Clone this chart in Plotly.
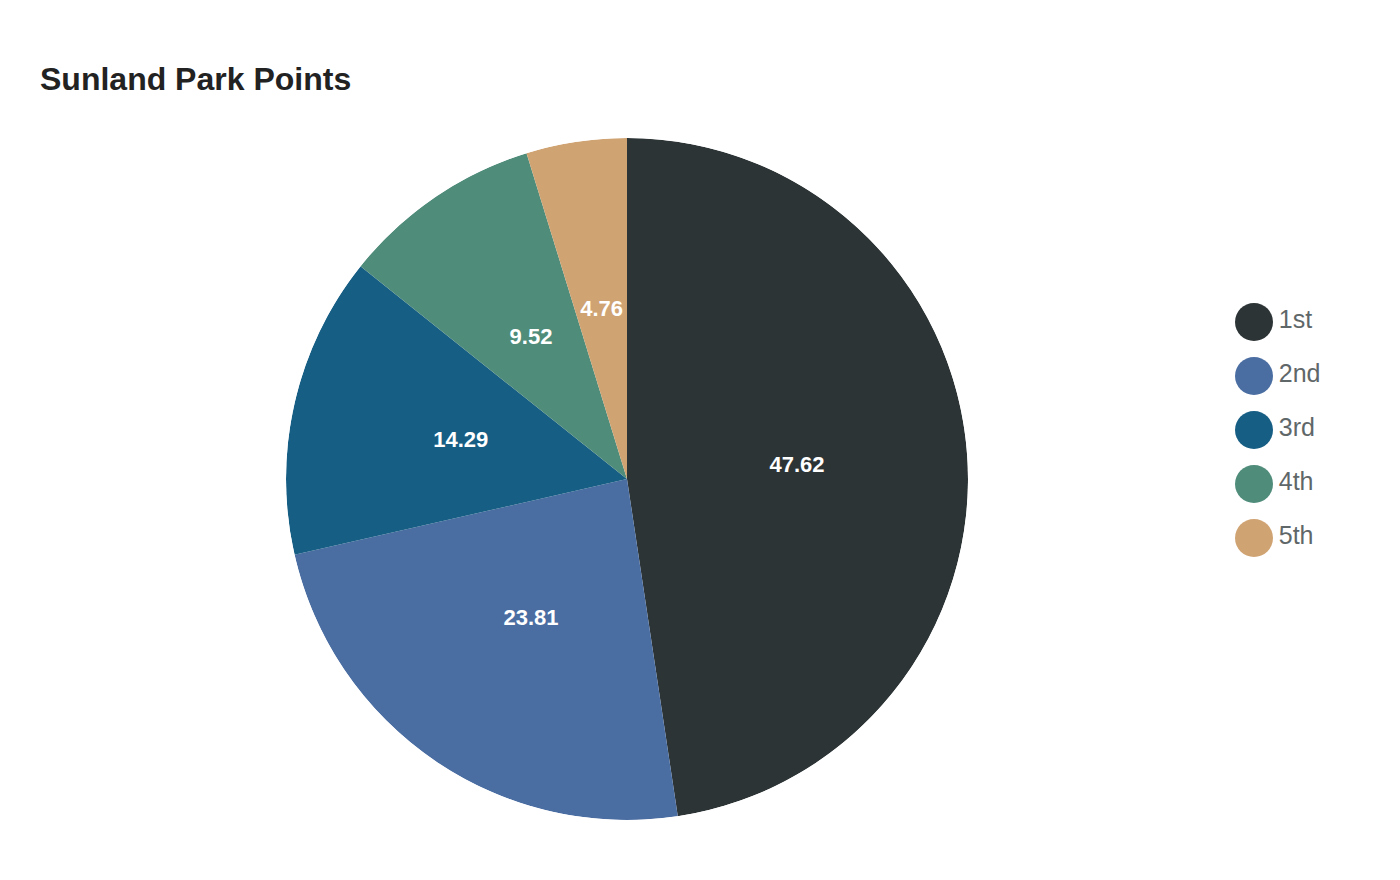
import plotly.graph_objects as go
import numpy as np

labels = ["1st", "2nd", "3rd", "4th", "5th"]
values = [47.62, 23.81, 14.29, 9.52, 4.76]
colors = ["#2d3436", "#4a6da2", "#175e84", "#4f8c7a", "#d0a373"]
title_text = "Sunland Park Points"

W, H = 1400, 880
OFF = 8  # page body margin
cx, cy, r = 627 - OFF, 479 - OFF, 341

dom = dict(x=[(cx - r) / W, (cx + r) / W], y=[1 - (cy + r) / H, 1 - (cy - r) / H])

# slice widths and mid-angles (degrees, clockwise from top) derived from the values
vals = np.array(values)
span = vals / vals.sum() * 360
mid_theta = np.cumsum(span) - span / 2

fig = go.Figure()
fig.add_trace(go.Barpolar(
    r=[1] * len(values), theta=mid_theta, width=span,
    marker=dict(color=colors, line=dict(width=0)),
    customdata=labels, hovertemplate="%{customdata}: %{text}<extra></extra>",
    text=[f"{v:.2f}" for v in values],
    showlegend=False,
))

# value labels at half radius inside each slice
fig.add_trace(go.Scatterpolar(
    r=[0.5] * len(values), theta=mid_theta, mode="text",
    text=[f"{v:.2f}" for v in values],
    textfont=dict(family="Liberation Sans", size=22, color="white", weight="bold"),
    showlegend=False, hoverinfo="skip",
))

# legend drawn as a scatter trace with large circular markers
fig.add_trace(go.Scatter(
    x=[0] * len(labels), y=labels, mode="markers+text",
    marker=dict(size=38, color=colors, symbol="circle"),
    text=labels, textposition="middle right",
    textfont=dict(family="Liberation Sans", size=25, color="#5f6769"),
    showlegend=False, hoverinfo="skip", cliponaxis=False,
))

lx = 1254 - OFF
ly_top, ly_bot = 322 - OFF - 27, 538 - OFF + 27

fig.update_layout(
    width=W, height=H,
    margin=dict(l=0, r=0, t=0, b=0),
    paper_bgcolor="white", plot_bgcolor="rgba(0,0,0,0)",
    font=dict(family="Liberation Sans"),
    title=dict(text=title_text, x=(40 - OFF) / W, xanchor="left", y=1 - (79 - OFF) / H, yanchor="middle",
               xref="paper", yref="paper",
               font=dict(family="Liberation Sans", size=32, color="#222222", weight="bold")),
    polar=dict(domain=dom, bgcolor="rgba(0,0,0,0)", hole=0,
               radialaxis=dict(range=[0, 1], visible=False, showgrid=False),
               angularaxis=dict(rotation=90, direction="clockwise", visible=False, showgrid=False)),
    xaxis=dict(domain=[(lx - 22) / W, (lx - 22 + 168) / W], range=[-22 / 168, 1 - 22 / 168],
               visible=False, fixedrange=True),
    yaxis=dict(domain=[1 - ly_bot / H, 1 - ly_top / H], range=[4.5, -0.5], type="category",
               visible=False, fixedrange=True),
)

fig.write_html("out.html")
